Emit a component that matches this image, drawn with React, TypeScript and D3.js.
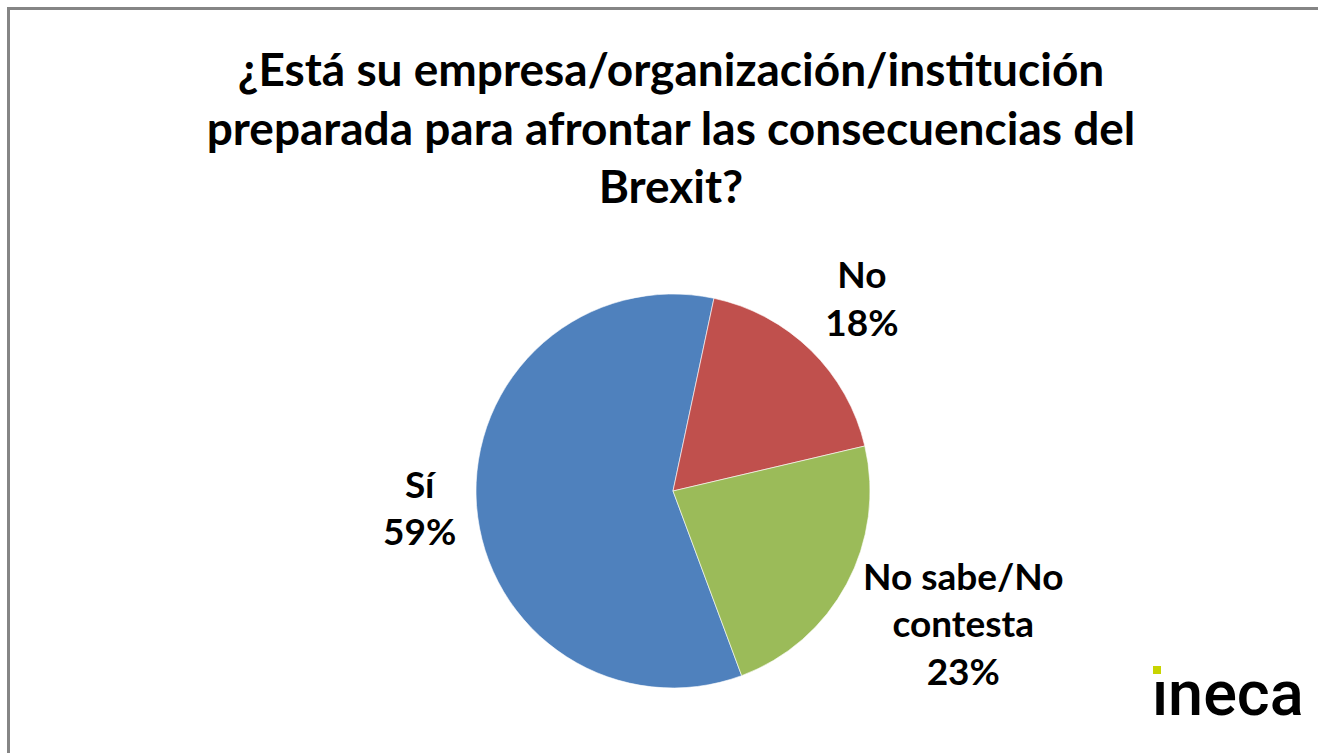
import React from 'react';
import * as d3 from 'd3';

// pie: ¿Está su empresa preparada para el Brexit?
const categories = ['Sí', 'No', 'No sabe/No contesta'];
const values = [59, 18, 23];
const labelLines = [['Sí', '59%'], ['No', '18%'], ['No sabe/No', 'contesta', '23%']];
const colors = ['#4F81BD', '#C0504D', '#9BBB59'];
const titleLines = [
  '¿Está su empresa/organización/institución',
  'preparada para afrontar las consecuencias del',
  'Brexit?',
];

const width = 1318;
const height = 753;
const cx = 673;
const cy = 491;
const radius = 197;
// first slice (Sí) starts here, degrees clockwise from 12 o'clock
const startDeg = 159.6;
const labelRadius = [254, 270, 318];
const labelNudge = [[0, 0], [0, 2], [10, -16]];
const font = 'Lato, "Open Sans", sans-serif';

const App = () => {
  const pie = d3.pie<number>()
    .sort(null)
    .value((d) => d)
    .startAngle(startDeg * Math.PI / 180)
    .endAngle(startDeg * Math.PI / 180 + 2 * Math.PI);
  const arcs = pie(values);
  const arc = d3.arc<d3.PieArcDatum<number>>()
    .innerRadius(0)
    .outerRadius(radius);

  const labelLH = 47.5;

  return (
    <svg width={width} height={height}
      style={{ position: 'absolute', left: 0, top: 0, display: 'block', background: '#fff' }}>
      <rect x={8.5} y={8.5} width={width + 20} height={height + 20}
        fill="none" stroke="#858585" strokeWidth={3} />

      <g fontFamily={font} fontWeight="bold" fontSize={46} textAnchor="middle" fill="#000">
        {titleLines.map((t, i) => (
          <text key={i} x={671} y={86 + i * 58.5}>{t}</text>
        ))}
      </g>

      <g transform={'translate(' + cx + ',' + cy + ')'}>
        {arcs.map((a, i) => (
          <path key={categories[i]} d={arc(a) || ''} fill={colors[i]}
            stroke="#ffffff" strokeWidth={0.6} />
        ))}
        {arcs.map((a, i) => {
          const c = d3.arc<d3.PieArcDatum<number>>()
            .innerRadius(labelRadius[i])
            .outerRadius(labelRadius[i])
            .centroid(a);
          const lx = c[0] + labelNudge[i][0];
          const ly = c[1] + labelNudge[i][1];
          const lines = labelLines[i];
          const top = ly - (lines.length - 1) * labelLH / 2;
          return (
            <text key={'l' + i} x={lx} fontFamily={font} fontWeight="bold"
              fontSize={37} textAnchor="middle" fill="#000">
              {lines.map((s, j) => (
                <tspan key={j} x={lx} y={top + j * labelLH + 12}>{s}</tspan>
              ))}
            </text>
          );
        })}
      </g>

      <g>
        <text x={1152} y={715} fontFamily="Roboto, sans-serif" fontWeight={500}
          fontSize={63} fill="#000">ineca</text>
        <rect x={1150} y={660} width={16} height={17} fill="#fff" />
        <rect x={1153} y={666} width={8} height={8} fill="#C8D400" />
      </g>
    </svg>
  );
};

export default App;
